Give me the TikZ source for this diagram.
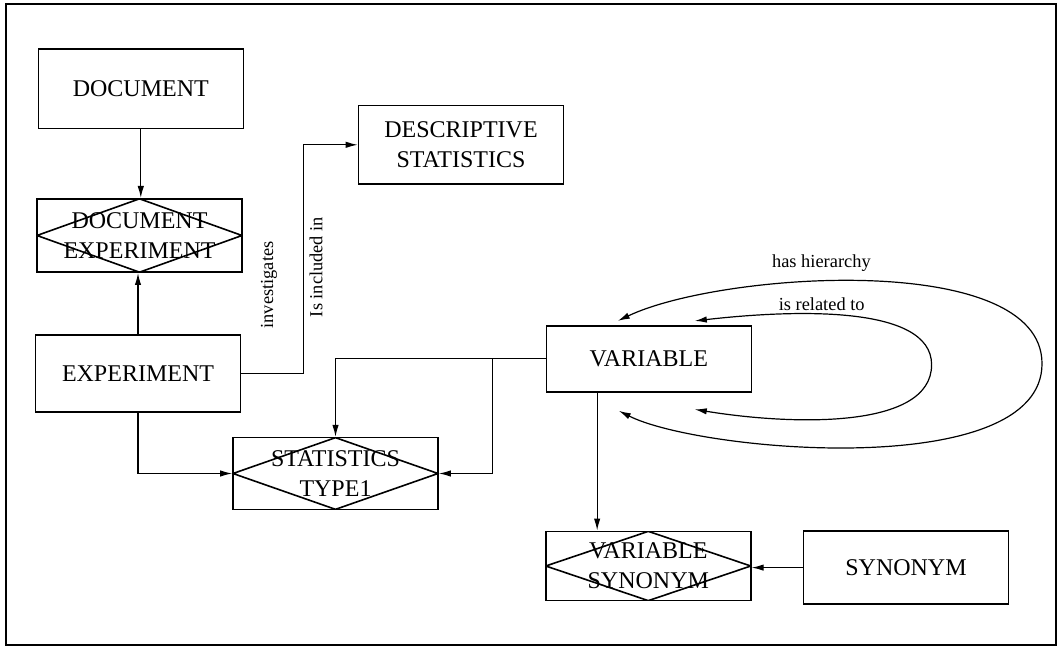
\documentclass[tikz,border=0pt]{standalone}
\usepackage{fontspec}
\setmainfont{Liberation Serif}
\usetikzlibrary{arrows.meta,calc}
\tikzset{
    entity/.style = {
        draw,
        line width=0.8pt,
        minimum width=102.5pt,
        inner sep=0pt,
        align=center,
        font=\fontsize{12}{15}\selectfont
    },
    relation/.style = {
        entity,
        path picture={
            \draw[line width=0.8pt] (path picture bounding box.west) -- (path picture bounding box.north)
                -- (path picture bounding box.east) -- (path picture bounding box.south) -- cycle;
        }
    },
    link/.style = {
        line width=0.6pt,
        -{Latex[length=6pt,width=3.2pt]}
    },
    selfloop/.style = {
        line width=0.6pt,
        {Latex[length=6pt,width=3.2pt]}-{Latex[length=6pt,width=3.2pt]}
    },
    role/.style = {
        font=\fontsize{9.2}{11}\selectfont
    }
}

\begin{document}
\begin{tikzpicture}[x=0.5pt,y=-0.5pt]
    % Frame
    \useasboundingbox (0,0) rectangle (1059,646);
    \draw[line width=0.9pt] (6,4) rectangle (1056,645);

    % Entities and relations
    \node[entity, minimum height=39.75pt] (document) at (140.8,88.7) {DOCUMENT};
    \node[relation, minimum height=36.7pt] (docexp) at (139.5,235.5) {DOCUMENT\\EXPERIMENT};
    \node[entity, minimum height=38.5pt] (experiment) at (138,373.6) {EXPERIMENT};
    \node[entity, minimum height=39.25pt] (descstat) at (461,144.8) {DESCRIPTIVE\\STATISTICS};
    \node[relation, minimum height=35.85pt] (stattype) at (335.5,473.5) {STATISTICS\\TYPE1};
    \node[entity, minimum height=32.85pt] (variable) at (648.8,358.9) {VARIABLE};
    \node[relation, minimum height=34.65pt] (varsyn) at (648.3,566) {VARIABLE\\SYNONYM};
    \node[entity, minimum height=36.35pt] (synonym) at (906,567.6) {SYNONYM};

    % Connectors
    \draw[link] (document.south) -- (document.south |- docexp.north);
    \draw[link] (experiment.north) -- (experiment.north |- docexp.south);
    \draw[link] (experiment.east) -- ++(62,0) |- (descstat.west);
    \draw[link] (experiment.south) |- (stattype.west);
    \draw[link] (variable.west) -| (stattype.north);
    \coordinate (split) at ($(variable.west)+(-52.7,0)$);
    \draw[link] (split) |- (stattype.east);
    \coordinate (varfoot) at ($(variable.south west)!0.25!(variable.south east)$);
    \draw[link] (varfoot) -- (varfoot |- varsyn.north);
    \draw[link] (synonym.west) -- (synonym.west -| varsyn.east);

    % Rotated labels
    \node[role, rotate=90] (investigates) at (269,285) {investigates};
    \node[role, rotate=90] (included) at (316,267) {Is included in};

    % Self loops on VARIABLE
    \coordinate (hierin) at ($(variable.north west)+(72.3,-4.35)$);
    \coordinate (hierout) at ($(variable.south west)+(73.3,18.25)$);
    \coordinate (relin) at ($(variable.north west)+(149.3,-4.35)$);
    \coordinate (relout) at ($(variable.south west)+(149.3,16.85)$);
    \draw[selfloop] (hierout) .. controls (700,452) and (1042,482) .. (1042,363.7)
                    .. controls (1042,250) and (720,272) .. (hierin);
    \draw[selfloop] (relout) .. controls (790,425) and (931.6,430) .. (931.6,364.7)
                    .. controls (931.6,304) and (790,310) .. (relin);
    \node[role] (hierarchy) at (821.4,263.3) {has hierarchy};
    \node[role] (related) at (821.7,304.5) {is related to};
\end{tikzpicture}
\end{document}
